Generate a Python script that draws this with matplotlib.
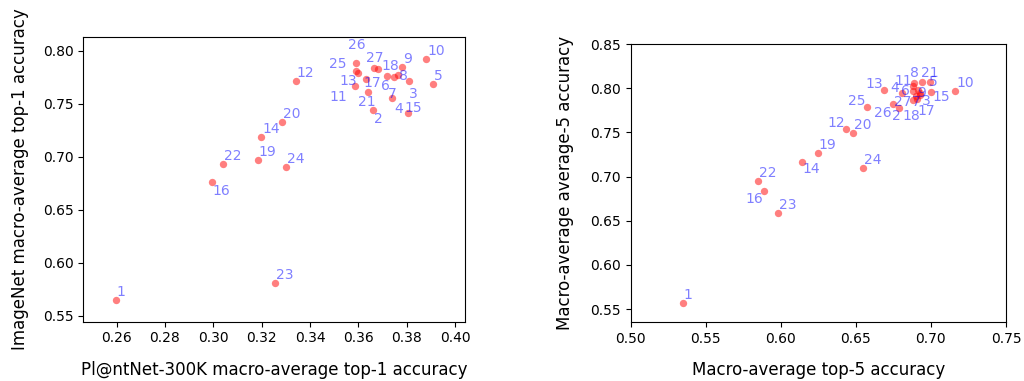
import matplotlib.pyplot as plt

labels = [str(i) for i in range(1, 28)]

# left panel: Pl@ntNet-300K top-1 vs ImageNet top-1
plantnet_top1 = [0.2596, 0.3662, 0.3810, 0.3749, 0.3909, 0.3683, 0.3741, 0.3765, 0.3782,
                 0.3880, 0.3586, 0.3341, 0.3599, 0.3197, 0.3804, 0.2993, 0.3630, 0.3717,
                 0.3183, 0.3283, 0.3639, 0.3041, 0.3255, 0.3301, 0.3590, 0.3590, 0.3666]
imagenet_top1 = [0.5653, 0.7442, 0.7715, 0.7755, 0.7686, 0.7828, 0.7557, 0.7771, 0.7849,
                 0.7922, 0.7670, 0.7718, 0.7790, 0.7184, 0.7411, 0.6764, 0.7734, 0.7765,
                 0.6974, 0.7326, 0.7614, 0.6933, 0.5810, 0.6902, 0.7809, 0.7881, 0.7840]

# right panel: macro-average top-5 vs average-5
macro_top5 = [0.5346, 0.6882, 0.6927, 0.6805, 0.6993, 0.6882, 0.6900, 0.6887, 0.6914,
              0.7162, 0.6880, 0.6434, 0.6687, 0.6143, 0.6998, 0.5886, 0.6927, 0.6907,
              0.6245, 0.6483, 0.6942, 0.5848, 0.5979, 0.6545, 0.6572, 0.6745, 0.6785]
average5 = [0.5564, 0.7866, 0.7923, 0.7949, 0.8066, 0.7968, 0.7911, 0.8064, 0.7979,
            0.7968, 0.8025, 0.7534, 0.7975, 0.7168, 0.7960, 0.6832, 0.7945, 0.7877,
            0.7262, 0.7489, 0.8066, 0.6945, 0.6591, 0.7092, 0.7783, 0.7821, 0.7779]

# label offsets (pixels) where the labels were moved to avoid overlaps
default_off = (1, 4)
left_off = {'26': (-7.7, 14), '25': (-27, 2.7), '13': (-18.3, -12), '11': (-25.3, -15),
            '17': (-1.7, -7.7), '6': (2.4, -21), '27': (-8.6, 6), '18': (-5, 5.7),
            '8': (0.7, -5), '3': (0, -17.3), '7': (-5, 0), '4': (-0.3, -36.6),
            '15': (-3.7, 1.6), '21': (-9.4, -14), '2': (0.7, -13.3), '16': (0.7, -13)}
right_off = {'16': (-18, -12), '14': (0, -11.7), '12': (-18.3, 2.6), '25': (-18.4, 2.3),
             '13': (-18.3, 2), '26': (-18.7, -12.7), '27': (-4.7, 1.7), '4': (-11, 1),
             '6': (-12.6, -4), '11': (-18, 1), '8': (-4.3, 5.2), '21': (-1.6, 5),
             '5': (-1, -3.7), '9': (-0.7, -6.7), '3': (2.3, -10), '7': (-4, -10),
             '2': (-21, -20), '18': (-15, -21), '17': (-3, -22), '15': (1.6, -9)}


def panel(ax, xs, ys, offsets):
    ax.scatter(xs, ys, s=28, color='red', alpha=0.5, linewidths=0)
    for lab, x, y in zip(labels, xs, ys):
        ax.annotate(lab, (x, y), xytext=offsets.get(lab, default_off),
                    textcoords='offset pixels', color='blue', alpha=0.5, fontsize=10)
    ax.tick_params(labelsize=10)


fig = plt.figure(figsize=(10.24, 3.81), dpi=100)
ax1 = fig.add_axes([0.0813, 0.1556, 0.3728, 0.7472])
ax2 = fig.add_axes([0.6159, 0.1541, 0.3665, 0.7304])

panel(ax1, plantnet_top1, imagenet_top1, left_off)
ax1.set_xlim(0.2462, 0.4041)
ax1.set_ylim(0.5446, 0.8129)
ax1.set_xticks([0.26, 0.28, 0.30, 0.32, 0.34, 0.36, 0.38, 0.40])
ax1.set_xlabel('Pl@ntNet-300K macro-average top-1 accuracy', fontsize=12, labelpad=11)
ax1.set_ylabel('ImageNet macro-average top-1 accuracy', fontsize=12, labelpad=10)

panel(ax2, macro_top5, average5, right_off)
ax2.set_xlim(0.5, 0.75)
ax2.set_ylim(0.535, 0.85)
ax2.set_xlabel('Macro-average top-5 accuracy', fontsize=12, labelpad=11)
ax2.set_ylabel('Macro-average average-5 accuracy', fontsize=12, labelpad=12)

fig.savefig('out.png', dpi=100)
